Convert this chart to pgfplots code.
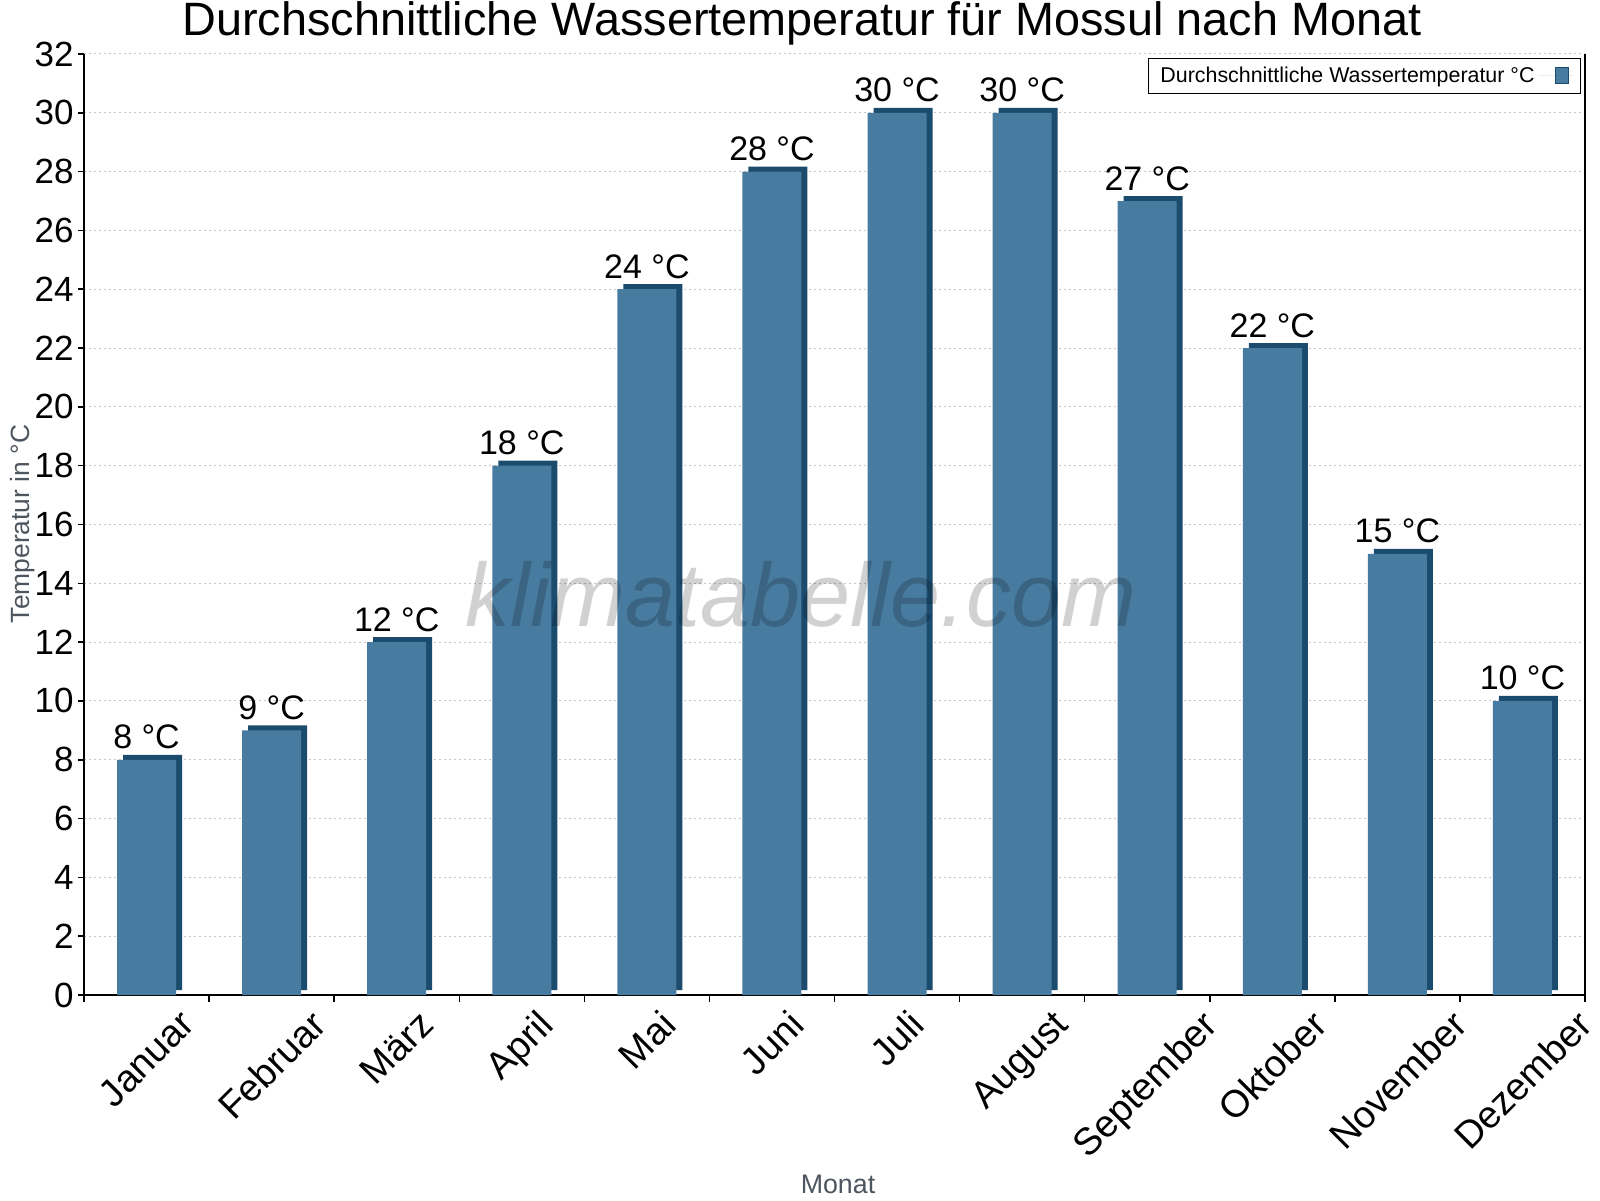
\documentclass[border=0pt]{standalone}
\usepackage{graphicx}
\usepackage{pgfplots}
\usepackage{pgfplotstable}
\pgfplotsset{compat=1.18}
\usepackage{fontspec}
\setmainfont{Liberation Sans}

\definecolor{barfront}{RGB}{71,123,159}
\definecolor{barside}{RGB}{27,75,109}
\definecolor{labelgray}{RGB}{77,85,94}

% Monat / Wassertemperatur in Grad C
\pgfplotstableread{
m t
1 8
2 9
3 12
4 18
5 24
6 28
7 30
8 30
9 27
10 22
11 15
12 10
}\wasser

\begin{document}
\begin{tikzpicture}
\path[use as bounding box] (0,0) rectangle (800pt,600pt);
\begin{axis}[
    at={(42pt,102.5pt)}, anchor=south west,
    scale only axis, width=750.5pt, height=470.5pt,
    clip=false,
    xmin=0.5, xmax=12.5, ymin=0, ymax=32,
    ytick distance=2,
    xtick={1,...,12},
    xticklabels={\rotatebox{45}{Januar},\rotatebox{45}{Februar},\rotatebox{45}{März},
        \rotatebox{45}{April},\rotatebox{45}{Mai},\rotatebox{45}{Juni},\rotatebox{45}{Juli},
        \rotatebox{45}{August},\rotatebox{45}{September},\rotatebox{45}{Oktober},
        \rotatebox{45}{November},\rotatebox{45}{Dezember}},
    minor xtick={0.5,1.5,...,12.5},
    major x tick style={draw=none},
    minor tick length=3.5pt,
    major tick length=3pt,
    tick align=outside,
    axis x line*=bottom, axis y line*=left,
    axis line style={line width=0.75pt},
    tick style={line width=0.75pt, black},
    ymajorgrids,
    major grid style={dash pattern=on 1pt off 1.5pt, line width=0.5pt, gray!45},
    /pgf/number format/assume math mode=true,
    yticklabel style={anchor=east, inner sep=0pt, xshift=-2pt,
        font=\fontsize{17.5}{18}\selectfont},
    xticklabel style={anchor=north, inner sep=0pt, yshift=-3.5pt,
        font=\fontsize{19}{19}\selectfont},
    legend style={at={(1,1)}, anchor=north east, xshift=-2pt, yshift=-2pt,
        draw=black, line width=0.5pt, font=\fontsize{10.7}{12}\selectfont,
        inner xsep=4pt, inner ysep=2pt},
    legend plot pos=right,
]
\addplot[ybar, bar shift=0pt, bar width=29.5pt, fill=barside, draw=none,
    xshift=3pt, yshift=2.5pt, forget plot] table[x=m, y=t] {\wasser};
\addplot[ybar, bar shift=0pt, bar width=29.5pt, fill=barfront, draw=none,
    nodes near coords={\pgfmathprintnumber{\pgfplotspointmeta}~°C},
    every node near coord/.append style={font=\fontsize{17}{17}\selectfont,
        anchor=base, yshift=5.5pt, inner sep=0pt, black},
    legend image code/.code={\path (0pt,0pt) -- (17pt,0pt);
        \draw[fill=barfront, draw=barside, line width=0.5pt]
        (8.6pt,-4pt) rectangle (15.1pt,4pt);}]
    table[x=m, y=t] {\wasser};
\addlegendentry{Durchschnittliche Wassertemperatur °C}
\draw[line width=0.75pt] (rel axis cs:1,0) -- (rel axis cs:1,1);
\end{axis}
\node[font=\fontsize{23.4}{24}\selectfont, anchor=base] at (401pt,582pt)
    {Durchschnittliche Wassertemperatur für Mossul nach Monat};
\node[font=\fontsize{13.2}{13}\selectfont, text=labelgray, rotate=90, anchor=base]
    at (14.5pt,338pt) {Temperatur in °C};
\node[font=\fontsize{13.4}{13}\selectfont, text=labelgray, anchor=base]
    at (419pt,3.5pt) {Monat};
\node[font=\fontsize{45}{45}\selectfont\itshape, text=black, opacity=0.18, anchor=base]
    at (400.5pt,286.5pt) {klimatabelle.com};
\end{tikzpicture}
\end{document}
